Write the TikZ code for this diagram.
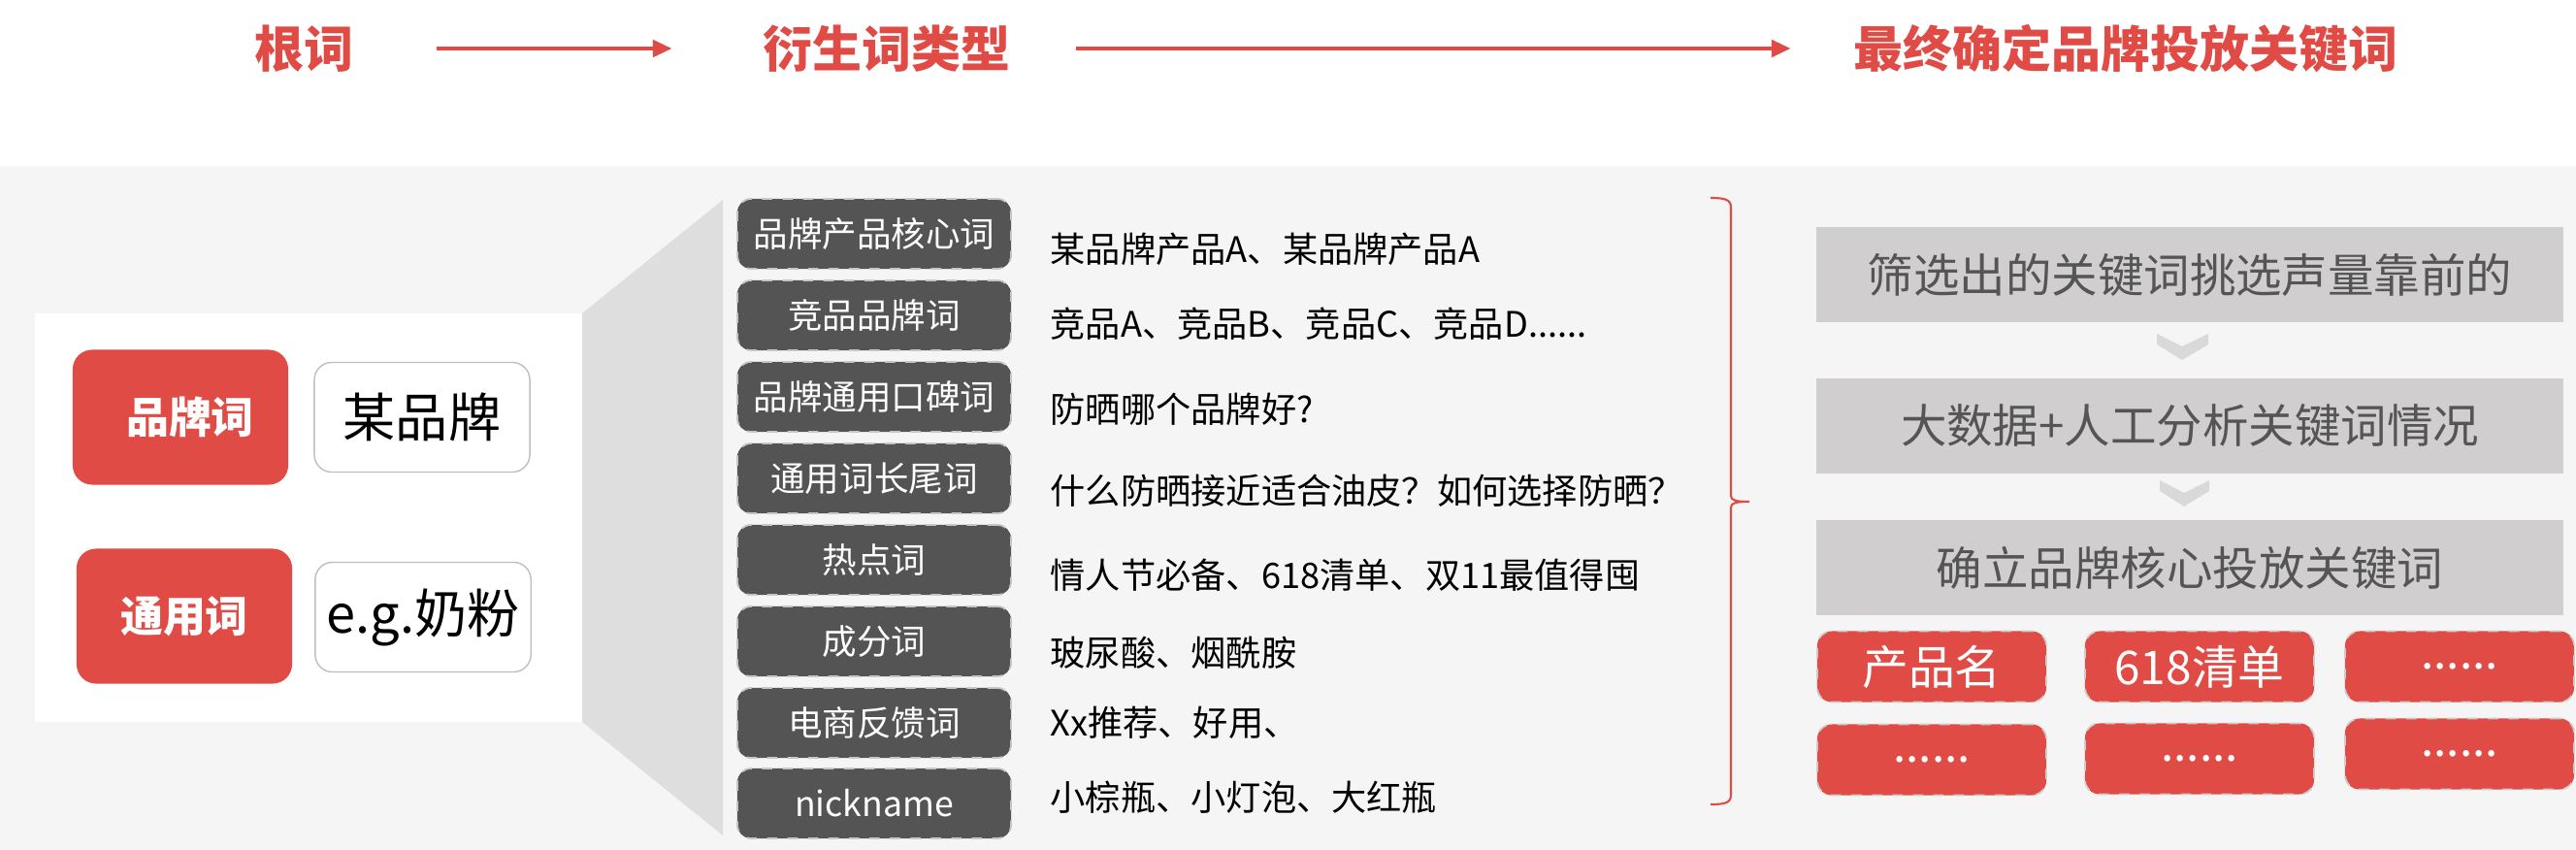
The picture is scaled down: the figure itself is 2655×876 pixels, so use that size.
\documentclass[tikz,border=0pt]{standalone}
\usepackage{fontspec}
\setmainfont{Noto Sans CJK SC}
\usetikzlibrary{arrows.meta}
\definecolor{brandred}{HTML}{E04B45}
\definecolor{panelgray}{HTML}{F5F5F5}
\definecolor{trapgray}{HTML}{DEDEDE}
\definecolor{labelgray}{HTML}{545454}
\definecolor{stepgray}{HTML}{D0CECE}
\definecolor{steptext}{HTML}{555555}
\definecolor{chevgray}{HTML}{D9D9D9}
\definecolor{boxline}{HTML}{BFBFBF}
\begin{document}
\begin{tikzpicture}[x=0.01cm, y=-0.01cm,
    title/.style={text=brandred, inner sep=0pt,
      font=\fontsize{14.5}{17}\selectfont\bfseries},
    arr/.style={->, >={Triangle[length=0.2cm, width=0.17cm]}, brandred,
      line width=1.4pt},
    rootbox/.style={rounded corners=0.2cm, fill=brandred, text=white,
      minimum width=2.22cm, minimum height=1.39cm,
      font=\fontsize{12.5}{15}\selectfont\bfseries},
    samplebox/.style={rounded corners=0.18cm, draw=boxline, fill=white,
      minimum width=2.22cm, minimum height=1.13cm,
      font=\fontsize{15.4}{18}\selectfont},
    kind/.style={rounded corners=0.14cm, fill=labelgray, draw=gray!45,
      dashed, line width=0.5pt, text=white, minimum width=2.82cm,
      minimum height=0.72cm, font=\fontsize{10.1}{12}\selectfont},
    example/.style={anchor=west, inner sep=0pt,
      font=\fontsize{10.3}{12}\selectfont},
    stepbox/.style={fill=stepgray, text=steptext, minimum width=7.7cm,
      minimum height=0.98cm, font=\fontsize{13.5}{16}\selectfont},
    pick/.style={rounded corners=0.15cm, fill=brandred, draw=gray!40,
      dashed, line width=0.5pt, text=white, minimum width=2.36cm,
      minimum height=0.73cm, font=\fontsize{13.6}{16}\selectfont},
    chev/.style={fill=chevgray},
    bracket/.style={brandred, line width=0.6pt}]
  \useasboundingbox (0,0) rectangle (2655,876);

  \fill[panelgray] (0,171) rectangle (2655,876); \fill[white]
  (36,323) rectangle (600,744); \fill[trapgray] (600,323) -- (745,206)
  -- (745,861) -- (600,744) -- cycle;

  \begin{scope}[every node/.style={title}]
    \node (root) at (313,50) {根词}; \node (deriv) at (914,50)
    {衍生词类型}; \node (final) at (2191,50) {最终确定品牌投放关键词};
  \end{scope}
  \draw[arr, shorten <=0.85cm, shorten >=0.93cm] (root) -- (deriv);
  \draw[arr, shorten <=0.67cm, shorten >=0.64cm] (deriv) -- (final);

  \node[rootbox] (brand) at (186,430) {\hspace{0.2cm}品牌词};
  \node[samplebox] (brandeg) at (435,430) {某品牌}; \node[rootbox]
  (generic) at (190,635) {通用词}; \node[samplebox] (genericeg) at
  (436,636) {e.g.奶粉};

  \begin{scope}[every node/.style={kind}]
    \node (k1) at (901,241) {品牌产品核心词}; \node (k2) at (901,325)
    {竞品品牌词}; \node (k3) at (901,409) {品牌通用口碑词}; \node (k4)
    at (901,493) {通用词长尾词}; \node (k5) at (901,577) {热点词};
    \node (k6) at (901,661) {成分词}; \node (k7) at (901,745)
    {电商反馈词}; \node (k8) at (901,828) {nickname};
  \end{scope}
  \begin{scope}[every node/.style={example}]
    \node (e1) at (1082,257) {某品牌产品A、某品牌产品A}; \node (e2) at
    (1082,334) {竞品A、竞品B、竞品C、竞品D......}; \node (e3) at
    (1082,422) {防晒哪个品牌好?}; \node (e4) at (1082,506)
    {什么防晒接近适合油皮？如何选择防晒？}; \node (e5) at (1082,593)
    {情人节必备、618清单、双11最值得囤}; \node (e6) at (1082,673)
    {玻尿酸、烟酰胺}; \node (e7) at (1082,745) {Xx推荐、好用、};
    \node (e8) at (1082,822) {小棕瓶、小灯泡、大红瓶};
  \end{scope}

  \coordinate (btop) at (1763,204); \coordinate (btip) at (1803,517);
  \coordinate (bbot) at (1763,829);
  \draw[bracket] (btop) .. controls (1779,204) and (1784,206) ..
  (1784,214) -- (1784,511) .. controls (1784,516) and (1790,517) ..
  (btip) .. controls (1790,517) and (1784,518) .. (1784,523) --
  (1784,819) .. controls (1784,827) and (1779,829) .. (bbot);

  \begin{scope}[every node/.style={stepbox}]
    \node (s1) at (2257,283) {筛选出的关键词挑选声量靠前的}; \node (s2)
    at (2257,439) {大数据+人工分析关键词情况}; \node (s3) at (2257,585)
    {确立品牌核心投放关键词};
  \end{scope}
  \fill[chev] (2223,344) -- ++(26,13) -- ++(27,-13) -- ++(0,11) --
  ++(-27,16) -- ++(-26,-16) -- cycle; \fill[chev] (2226,495) --
  ++(25,13) -- ++(26,-13) -- ++(0,11) -- ++(-26,16) -- ++(-25,-16) --
  cycle;

  \begin{scope}[every node/.style={pick}]
    \node (p1) at (1991,687) {产品名}; \node (p2) at (2267,687)
    {618清单}; \node (p3) at (2535,687) {......}; \node (p4) at
    (1991,783) {......}; \node (p5) at (2267,782) {......}; \node (p6)
    at (2535,777) {......};
  \end{scope}
\end{tikzpicture}
\end{document}
